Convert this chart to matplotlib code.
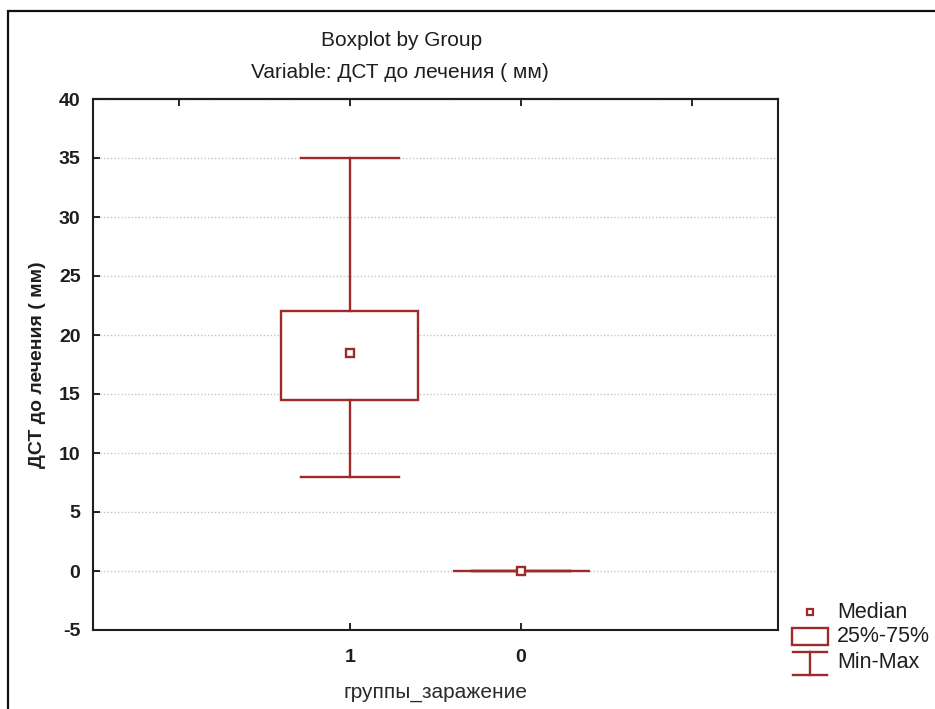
import matplotlib
matplotlib.use("Agg")
import matplotlib.pyplot as plt
from matplotlib.patches import Rectangle
from matplotlib.lines import Line2D

plt.rcParams['font.family'] = ['Liberation Sans', 'DejaVu Sans']
plt.rcParams['axes.unicode_minus'] = False

# Summary statistics per group
groups = ['1', '0']
mins = [8.0, 0.0]
q1 = [14.5, 0.0]
medians = [18.5, 0.0]
q3 = [22.0, 0.0]
maxs = [35.0, 0.0]

title = "Boxplot by Group"
subtitle = "Variable: ДСТ до лечения ( мм)"
ylabel = "ДСТ до лечения ( мм)"
xlabel = "группы_заражение"
legend_labels = ["Median", "25%-75%", "Min-Max"]

red = '#9e2a2b'
ink = '#1e1e1e'
W, H = 935, 709
fig = plt.figure(figsize=(W / 100, H / 100), dpi=100)
ax = fig.add_axes([93 / W, 1 - 630 / H, (778 - 93) / W, (630 - 99) / H])

positions = [1, 2]
stats = [dict(whislo=lo, q1=a, med=m, q3=b, whishi=hi, label=g)
         for lo, a, m, b, hi, g in zip(mins, q1, medians, q3, maxs, groups)]
ax.bxp(stats, positions=positions, widths=0.8, showfliers=False,
       patch_artist=True,
       boxprops=dict(facecolor='white', edgecolor=red, linewidth=1.7),
       whiskerprops=dict(color=red, linewidth=1.7),
       capprops=dict(color=red, linewidth=1.7),
       medianprops=dict(visible=False),
       capwidths=0.57, zorder=3)
ax.plot(positions, medians, 's', ms=5.5, mfc='white', mec=red, mew=1.7,
        zorder=4, linestyle='none')

ax.set_xlim(-0.5, 3.5)
ax.set_ylim(-5, 40)
ax.set_yticks(range(-5, 41, 5))
ax.set_xticks(positions)
ax.set_xticklabels(groups, fontsize=14, fontweight='bold', color=ink)
for lab in ax.get_yticklabels():
    lab.set_fontsize(14)
    lab.set_fontweight('bold')
    lab.set_color(ink)
ax.tick_params(axis='y', direction='in', length=5, width=1.2, pad=9)
ax.tick_params(axis='x', direction='in', length=5, width=1.2, pad=14)
ax.yaxis.grid(True, linestyle=(0, (1, 1.5)), color='#c4c4c4', linewidth=1, zorder=0)
ax.set_axisbelow(True)
for s in ax.spines.values():
    s.set_linewidth(1.5)
    s.set_color(ink)

top = ax.secondary_xaxis('top')
top.set_xticks([0, 1, 2, 3])
top.set_xticklabels([])
top.tick_params(direction='in', length=5, width=1.2)
top.spines['top'].set_linewidth(1.5)

ax.set_ylabel(ylabel, fontsize=14, fontweight='bold', labelpad=9, color=ink)
ax.set_xlabel(xlabel, fontsize=15, labelpad=12, color='#2a2a2a')

fig.text(402 / W, 1 - 41 / H, title, ha='center', va='center', fontsize=15, color=ink)
fig.text(400 / W, 1 - 73 / H, subtitle, ha='center', va='center', fontsize=15, color=ink)

# Outer frame
fig.add_artist(Rectangle((8 / W, -0.05), 1.1, 1 - 11 / H + 0.05, transform=fig.transFigure,
                         fill=False, edgecolor='#111111', linewidth=1.6))

# Legend key drawn in figure pixels
def px(x, y):
    return x / W, 1 - y / H

tf = fig.transFigure
fig.add_artist(Line2D(*zip(px(810, 612)), marker='s', ms=5, mfc='white', mec=red, mew=1.6,
                      transform=tf, linestyle='none'))
x0, y0 = px(792, 645)
x1, y1 = px(828, 628)
fig.add_artist(Rectangle((x0, y0), x1 - x0, y1 - y0, transform=tf, fill=False,
                         edgecolor=red, linewidth=1.7))
for yy in (652, 675):
    a, b = px(793, yy), px(827, yy)
    fig.add_artist(Line2D([a[0], b[0]], [a[1], b[1]], color=red, lw=1.7, transform=tf))
a, b = px(810, 652), px(810, 675)
fig.add_artist(Line2D([a[0], b[0]], [a[1], b[1]], color=red, lw=1.7, transform=tf))
for txt, yy in zip(legend_labels, (612, 637, 663)):
    fig.text(837 / W, 1 - yy / H, txt, ha='left', va='center', fontsize=15.5, color=ink)

fig.savefig('out.png', dpi=100)
